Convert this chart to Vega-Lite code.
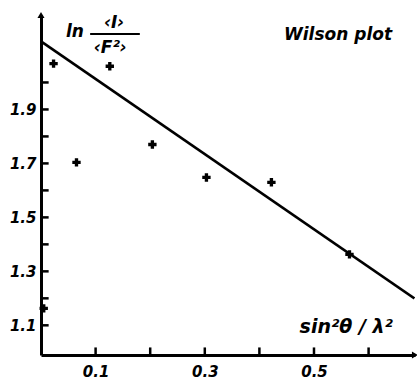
{
  "$schema": "https://vega.github.io/schema/vega-lite/v6.json",
  "width": 374,
  "height": 340,
  "autosize": "none",
  "padding": {"left": 41, "top": 15, "right": 2, "bottom": 25},
  "background": "white",
  "config": {
    "view": {"stroke": null},
    "font": "DejaVu Sans",
    "axis": {
      "title": null,
      "domainColor": "black",
      "domainWidth": 3,
      "ticks": false,
      "grid": false,
      "labelColor": "black",
      "labelFont": "DejaVu Sans",
      "labelFontStyle": "italic",
      "labelFontWeight": "bold",
      "labelFontSize": 15
    }
  },
  "datasets": {
    "points": [
      {"s": 0.005, "lnr": 1.163},
      {"s": 0.023, "lnr": 2.07},
      {"s": 0.065, "lnr": 1.704},
      {"s": 0.126, "lnr": 2.06},
      {"s": 0.204, "lnr": 1.77},
      {"s": 0.303, "lnr": 1.648},
      {"s": 0.422, "lnr": 1.63},
      {"s": 0.565, "lnr": 1.363}
    ],
    "fit": [
      {"s": 0.0, "lnr": 2.152},
      {"s": 0.684, "lnr": 1.2}
    ],
    "labels": [
      {"s": 0.062, "lnr": 2.186, "t": "ln", "size": 17},
      {"s": 0.134, "lnr": 2.222, "t": "‹I›", "size": 17},
      {"s": 0.127, "lnr": 2.128, "t": "‹F²›", "size": 17},
      {"s": 0.544, "lnr": 2.176, "t": "Wilson plot", "size": 17},
      {"s": 0.559, "lnr": 1.094, "t": "sin²θ / λ²", "size": 19}
    ],
    "frac": [
      {"s": 0.09, "s2": 0.181, "lnr": 2.18}
    ],
    "arrows": [
      {"s": 0.0, "lnr": 2.25, "a": 0},
      {"s": 0.685, "lnr": 0.99, "a": 90}
    ],
    "xticks": [
      {"v": 0.1, "lo": 0.99, "hi": 1.018},
      {"v": 0.2, "lo": 0.99, "hi": 1.018},
      {"v": 0.3, "lo": 0.99, "hi": 1.018},
      {"v": 0.4, "lo": 0.99, "hi": 1.018},
      {"v": 0.5, "lo": 0.99, "hi": 1.018},
      {"v": 0.6, "lo": 0.99, "hi": 1.018}
    ],
    "yticks": [
      {"v": 1.1, "lo": 0, "hi": 0.014},
      {"v": 1.2, "lo": 0, "hi": 0.014},
      {"v": 1.3, "lo": 0, "hi": 0.014},
      {"v": 1.4, "lo": 0, "hi": 0.014},
      {"v": 1.5, "lo": 0, "hi": 0.014},
      {"v": 1.6, "lo": 0, "hi": 0.014},
      {"v": 1.7, "lo": 0, "hi": 0.014},
      {"v": 1.8, "lo": 0, "hi": 0.014},
      {"v": 1.9, "lo": 0, "hi": 0.014},
      {"v": 2.0, "lo": 0, "hi": 0.014}
    ]
  },
  "layer": [
    {
      "data": {"name": "fit"},
      "mark": {"type": "line", "color": "black", "strokeWidth": 2.6, "clip": true},
      "encoding": {
        "x": {
          "field": "s", "type": "quantitative",
          "scale": {"domain": [0, 0.685], "nice": false, "zero": false},
          "axis": {
            "orient": "bottom",
            "values": [0.1, 0.3, 0.5],
            "format": ".1f",
            "labelPadding": 9
          }
        },
        "y": {
          "field": "lnr", "type": "quantitative",
          "scale": {"domain": [0.99, 2.25], "nice": false, "zero": false},
          "axis": {
            "orient": "left",
            "values": [1.1, 1.3, 1.5, 1.7, 1.9],
            "format": ".1f",
            "labelPadding": 5
          }
        }
      }
    },
    {
      "data": {"name": "xticks"},
      "mark": {"type": "rule", "color": "black", "strokeWidth": 2.5},
      "encoding": {
        "x": {"field": "v", "type": "quantitative"},
        "y": {"field": "lo", "type": "quantitative"},
        "y2": {"field": "hi"}
      }
    },
    {
      "data": {"name": "yticks"},
      "mark": {"type": "rule", "color": "black", "strokeWidth": 2.5},
      "encoding": {
        "y": {"field": "v", "type": "quantitative"},
        "x": {"field": "lo", "type": "quantitative"},
        "x2": {"field": "hi"}
      }
    },
    {
      "data": {"name": "points"},
      "mark": {"type": "point", "shape": "cross", "filled": true, "color": "black", "size": 70, "opacity": 1},
      "encoding": {
        "x": {"field": "s", "type": "quantitative"},
        "y": {"field": "lnr", "type": "quantitative"}
      }
    },
    {
      "data": {"name": "frac"},
      "mark": {"type": "rule", "color": "black", "strokeWidth": 2},
      "encoding": {
        "x": {"field": "s", "type": "quantitative"},
        "x2": {"field": "s2"},
        "y": {"field": "lnr", "type": "quantitative"}
      }
    },
    {
      "data": {"name": "labels"},
      "mark": {"type": "text", "color": "black", "font": "DejaVu Sans", "fontStyle": "italic", "fontWeight": "bold", "align": "center", "baseline": "middle"},
      "encoding": {
        "x": {"field": "s", "type": "quantitative"},
        "y": {"field": "lnr", "type": "quantitative"},
        "text": {"field": "t"},
        "size": {"field": "size", "type": "quantitative", "scale": null}
      }
    },
    {
      "data": {"name": "arrows"},
      "mark": {"type": "point", "shape": "triangle-up", "filled": true, "color": "black", "size": 50, "opacity": 1, "clip": false},
      "encoding": {
        "x": {"field": "s", "type": "quantitative"},
        "y": {"field": "lnr", "type": "quantitative"},
        "angle": {"field": "a", "type": "quantitative", "scale": null}
      }
    }
  ]
}
